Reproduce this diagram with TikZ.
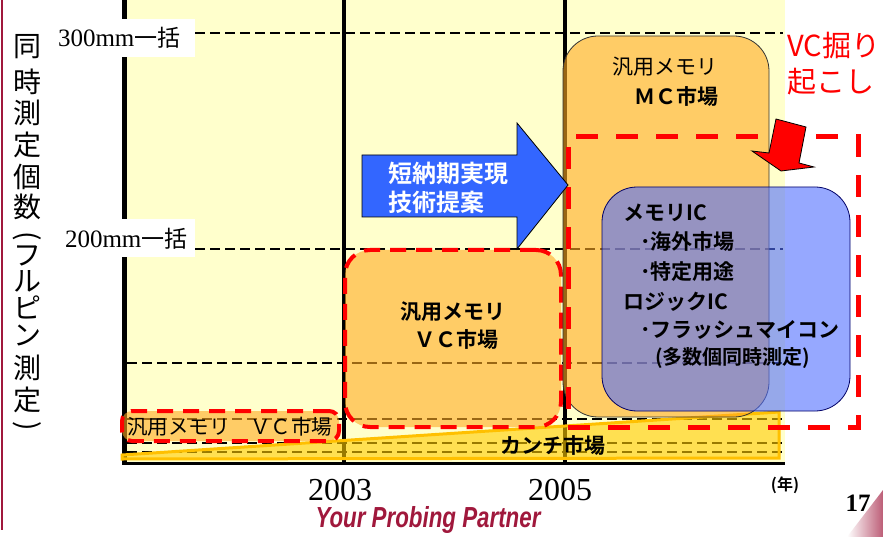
\documentclass[tikz,border=0pt]{standalone}
\usepackage{fontspec}
\setmainfont{Liberation Serif}
\newfontfamily\jp{Noto Sans CJK JP}[BoldFont={Noto Sans CJK JP Bold}]
\newfontfamily\slidesans{Liberation Sans}
\newcommand{\setfs}[1]{\fontsize{#1}{#1}\selectfont}
\usetikzlibrary{shadings}

\definecolor{slideyellow}{HTML}{FFFFCC}
\definecolor{mktorange}{RGB}{255,170,34}
\definecolor{kanchiyellow}{RGB}{255,204,0}
\definecolor{kanchiedge}{HTML}{FFC000}
\definecolor{icblue}{RGB}{80,110,255}
\definecolor{arrowblue}{HTML}{3366FF}
\definecolor{slidecrimson}{HTML}{A0183C}

\tikzset{
  gridline/.style={draw=black, line width=1.5pt, dash pattern=on 10pt off 5pt},
  yearline/.style={draw=black, line width=4.5pt},
  mktbox/.style={fill=mktorange, fill opacity=0.6, text opacity=1, rounded corners=#1},
  reddash/.style={draw=red, line width=4pt, dash pattern=on 16pt off 10pt},
  icbox/.style={fill=icblue, fill opacity=0.6, draw=black!60!blue, line width=0.8pt, rounded corners=35pt},
  lblbox/.style={fill=white, inner xsep=3pt, minimum height=38pt, align=left, font=\setfs{25}},
  ylabel/.style={font=\jp\setfs{28}},
  jptext/.style={font=\jp\setfs{21}, anchor=west},
  jpbold/.style={font=\jp\bfseries\setfs{21}, anchor=west},
}

\begin{document}
\begin{tikzpicture}[x=1pt, y=-1pt, every node/.style={inner sep=0pt}]
\useasboundingbox (0,0) rectangle (883,537);
\fill[white] (0,0) rectangle (883,537);
\draw[slidecrimson, line width=2pt] (1.5,0) -- (1.5,530);
\fill[slideyellow] (122,0) rectangle (785,463);

\foreach \yy in {33,249}
  \draw[gridline] (195,\yy) -- (783,\yy);
\foreach \yy in {363,419,443,452}
  \draw[gridline] (127,\yy) -- (783,\yy);

\foreach \xx in {124.5,344,565}
  \draw[yearline] (\xx,0) -- (\xx,463);
\draw[black, line width=3pt] (122,463) -- (785,463);

\node[lblbox, text width=134pt] (lbl300) at (125,38) {300mm{\jp\setfs{23}一括}};
\node[lblbox, text width=127pt] (lbl200) at (128.5,238.5) {200mm{\jp\setfs{23}一括}};

\foreach \ch/\yy [count=\i] in {同/47, 時/82, 測/113, 定/145, 個/177, 数/207, フ/256, ル/281, ピ/307, ン/336, 測/368, 定/400}
  \node[ylabel] (yl\i) at (27,\yy) {\ch};
\node[ylabel] (ylopen) at (27,236) {\rotatebox{-90}{(}};
\node[ylabel] (ylclose) at (27,426) {\rotatebox{-90}{)}};

\filldraw[fill=kanchiyellow, fill opacity=0.6, draw=kanchiedge, line width=3pt]
  (122,455) -- (779,412) -- (779,458) -- (122,459) -- cycle;

\node[mktbox=10pt, reddash, minimum width=217pt, minimum height=30pt] (smallvc) at (230.5,426) {};
\node[mktbox=25pt, reddash, minimum width=216pt, minimum height=177pt] (vc) at (453,338.5) {};
\node[mktbox=35pt, draw=black!80, line width=0.8pt, minimum width=206pt, minimum height=381pt] (mc) at (666,226.5) {};
\node[icbox, minimum width=248pt, minimum height=224pt] (memic) at (726,299) {};
\node[draw=red, line width=5pt, dash pattern=on 22pt off 18pt, minimum width=290pt, minimum height=290pt] (vcarea) at (713,282) {};

\filldraw[fill=arrowblue, draw=black, line width=0.8pt]
  (362,155) -- (517,155) -- (517,123) -- (568,185) -- (517,249) -- (517,217) -- (362,217) -- cycle;
\filldraw[fill=red, draw=black, line width=0.8pt]
  (776,119) -- (806,127) -- (799,163) -- (814,167) -- (781,171) -- (752,151) -- (769,153) -- cycle;

\node[jpbold, font=\jp\bfseries\setfs{24}, text=white] (tech1) at (388,173) {短納期実現};
\node[jpbold, font=\jp\bfseries\setfs{24}, text=white] (tech2) at (388,202) {技術提案};

\node[jptext, font=\jp\setfs{20.5}] (smallvctxt) at (127,427) {汎用メモリ　ＶＣ市場};
\node[jpbold] (vctxt1) at (400,312) {汎用メモリ};
\node[jpbold] (vctxt2) at (414,340) {ＶＣ市場};
\node[jptext] (mctxt1) at (612,67) {汎用メモリ};
\node[jpbold] (mctxt2) at (634,97) {ＭＣ市場};
\node[jpbold] (kanchi) at (500,446) {カンチ市場};

\node[jpbold] (ic1) at (623,213) {メモリIC};
\node[jpbold] (ic2) at (640,242) {･海外市場};
\node[jpbold] (ic3) at (640,272) {･特定用途};
\node[jpbold] (ic4) at (623,302) {ロジックIC};
\node[jpbold] (ic5) at (640,330) {･フラッシュマイコン};
\node[jpbold, font=\jp\bfseries\setfs{20}] (ic6) at (655,358) {(多数個同時測定)};

\node[jptext, font=\jp\setfs{29}, text=red] (dig1) at (787,46) {VC掘り};
\node[jptext, font=\jp\setfs{29}, text=red] (dig2) at (787,82) {起こし};

\node[font=\setfs{32}] (y2003) at (340,490) {2003};
\node[font=\setfs{32}] (y2005) at (560,490) {2005};
\node[font=\jp\bfseries\setfs{16}] (nen) at (785,485) {(年)};
\node[font=\bfseries\setfs{25}] (pageno) at (858,503) {17};
\node[font=\slidesans\bfseries\itshape\setfs{29}, text=slidecrimson] (ypp) at (428,520) {\scalebox{0.77}[1]{Your Probing Partner}};
\shade[left color=white, right color=slidecrimson!70] (847,537) -- (883,490) -- (883,537) -- cycle;
\end{tikzpicture}
\end{document}
